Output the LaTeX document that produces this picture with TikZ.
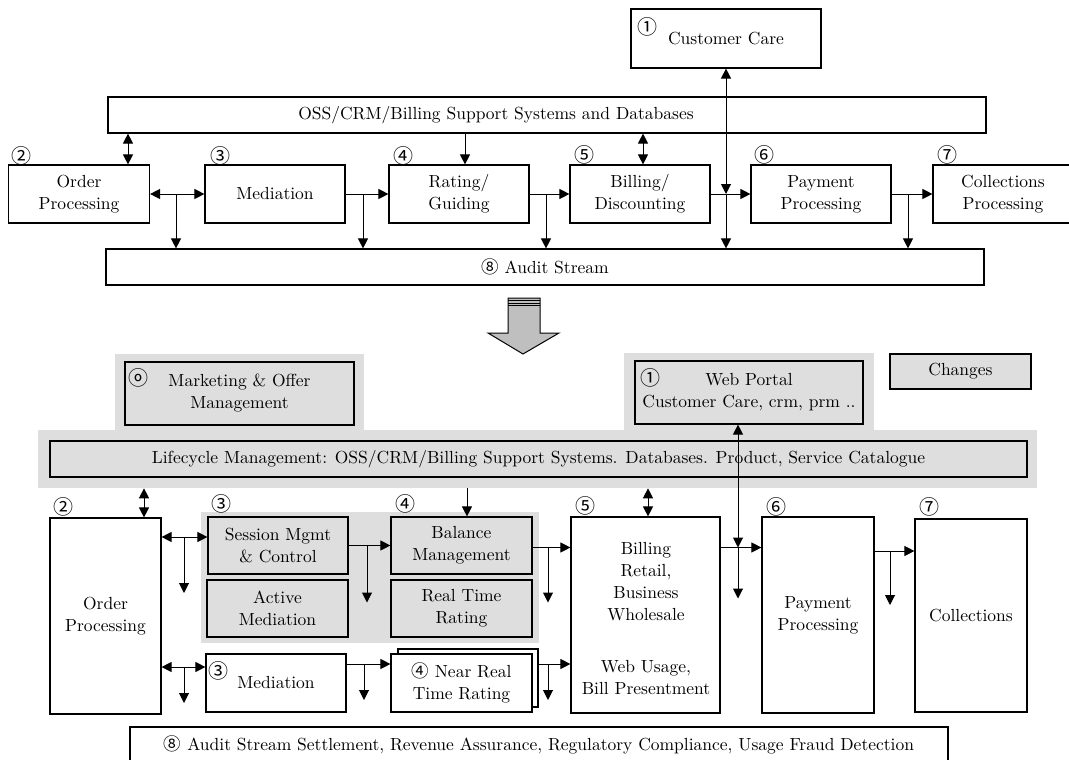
\documentclass[tikz,border=0pt]{standalone}
\usepackage{fontspec}
\usetikzlibrary{arrows.meta}
\newfontfamily\circfont{Noto Sans CJK KR}
\definecolor{bggray}{gray}{0.87}
\def\pxu{0.6pt}

\tikzset{
	sz/.style 2 args={minimum width=#1*\pxu, minimum height=#2*\pxu},
	box/.style={draw, line width=0.7pt, fill=white, align=center, inner sep=1pt},
	graybox/.style={box, fill=bggray},
	bg/.style={fill=bggray, inner sep=0pt},
	num/.style={font=\circfont\fontsize{12}{13}\selectfont, inner sep=0pt},
	txt/.style={align=center, inner sep=0pt},
	arr/.style={line width=0.6pt, -{Triangle[length=6pt,width=6pt]}},
	dbl/.style={line width=0.6pt, {Triangle[length=6pt,width=6pt]}-{Triangle[length=6pt,width=6pt]}},
}

\begin{document}
\begin{tikzpicture}[x=0.6pt, y=-0.6pt, font=\fontsize{10.5}{13.2}\selectfont]
		%%%%% OLD CHAIN %%%%%
		\clip (0,0) rectangle (1069,760);
		
		\node[box, sz={190}{59}] (cc) at (726,38.5) {Customer Care};
		\node[num] (n1a) at (647,27) {①};
		
		\node[box, sz={878}{36}] (oss) at (547,115) {};
		\node[txt] (osstxt) at (496,115) {OSS/CRM/Billing Support Systems and Databases};
		
		\node[box, sz={141}{58}] (ordA) at (79,194) {Order\\Processing};
		\node[box, sz={140}{58}] (medA) at (275,194) {Mediation};
		\node[box, sz={140}{58}] (ratA) at (459,194) {Rating/\\Guiding};
		\node[box, sz={140}{58}] (billA) at (640,194) {Billing/\\Discounting};
		\node[box, sz={140}{58}] (payA) at (821,194) {Payment\\Processing};
		\node[box, sz={140}{58}] (colA) at (1003,194) {Collections\\Processing};
		
		\node[num] (n2a) at (22,156) {②};
		\node[num] (n3a) at (220,156) {③};
		\node[num] (n4a) at (403,156) {④};
		\node[num] (n5a) at (584,155) {⑤};
		\node[num] (n6a) at (764,155) {⑥};
		\node[num] (n7a) at (947,155) {⑦};
		
		\node[box, sz={878}{36}] (audA) at (545,267) {{\circfont ⑧} Audit Stream};
		
		\coordinate (c1) at (128,0);
		\coordinate (c2) at (465,0);
		\coordinate (c3) at (643,0);
		\coordinate (b1) at (176,0);
		\coordinate (b2) at (363,0);
		\coordinate (b3) at (546,0);
		\coordinate (b4) at (908,0);
		
		\draw[dbl] (oss.south -| c1) -- (ordA.north -| c1);
		\draw[arr] (oss.south -| c2) -- (ratA.north -| c2);
		\draw[dbl] (oss.south -| c3) -- (billA.north -| c3);
		\draw[dbl] (cc.south) -- (billA.east -| cc.south);
		\draw[arr] (billA.east -| cc.south) -- (audA.north -| cc.south);
		
		\draw[dbl] (ordA.east) -- (medA.west);
		\draw[arr] (medA.east) -- (ratA.west);
		\draw[arr] (ratA.east) -- (billA.west);
		\draw[arr] (billA.east) -- (payA.west);
		\draw[arr] (payA.east) -- (colA.west);
		
		\draw[arr] (ordA.east -| b1) -- (audA.north -| b1);
		\draw[arr] (ordA.east -| b2) -- (audA.north -| b2);
		\draw[arr] (ordA.east -| b3) -- (audA.north -| b3);
		\draw[arr] (ordA.east -| b4) -- (audA.north -| b4);
		
		%%%%% BIG ARROW %%%%%
		\draw[line width=0.6pt, fill=gray!50] (508,298) -- (540,298) -- (540,333) -- (559,333) -- (523,354) -- (488,333) -- (508,333) -- cycle;
		\draw[line width=0.6pt] (508,300.5) -- (540,300.5);
		\draw[line width=0.6pt] (508,303) -- (540,303);
		\draw[line width=0.6pt] (508,305.5) -- (540,305.5);
		
		%%%%% NEW CHAIN %%%%%
		\fill[bggray] (115,354) rectangle (364,431);
		\fill[bggray] (624,353) rectangle (874,431);
		\node[bg, sz={999}{58}] (band) at (537.5,459) {};
		\node[bg, sz={338}{131}] (rtzone) at (370,577.5) {};
		
		\node[graybox, sz={229}{63}] (mkt) at (239.5,393.5) {Marketing \& Offer\\Management};
		\node[num] (n0) at (138,378) {ⓞ};
		\node[graybox, sz={228}{63}] (web) at (749,392.5) {Web Portal\\Customer Care, crm, prm ..};
		\node[num] (n1b) at (650,378) {①};
		\node[graybox, sz={141}{35}] (chg) at (960.5,371.5) {Changes};
		
		\node[graybox, sz={977}{36}] (lcm) at (538.5,459) {Lifecycle Management: OSS/CRM/Billing Support Systems. Databases. Product, Service Catalogue};
		
		\node[box, sz={111}{196}] (ordB) at (105.5,616) {Order\\Processing};
		\node[graybox, sz={140}{57}] (sess) at (278,545.5) {Session Mgmt\\\& Control};
		\node[graybox, sz={141}{57}] (actm) at (277.5,608.5) {Active\\Mediation};
		\node[graybox, sz={141}{57}] (bal) at (461.5,545.5) {Balance\\Management};
		\node[graybox, sz={141}{57}] (rtr) at (461.5,608.5) {Real Time\\Rating};
		
		\node[box, sz={140}{58}] (medB) at (276,683) {Mediation};
		\node[num] (n3c) at (218,671) {③};
		\node[box, sz={140}{58}] (nrtback) at (468,678) {};
		\node[box, sz={141}{58}] (nrt) at (461.5,683) {{\circfont ④} Near Real\\Time Rating};
		
		\node[box, sz={149}{196}] (billB) at (645.5,615) {};
		\node[txt] (billtxt) at (646,582) {Billing\\Retail,\\Business\\Wholesale};
		\node[txt] (webtxt) at (646,678) {Web Usage,\\Bill Presentment};
		\node[box, sz={112}{196}] (payB) at (818,615) {Payment\\Processing};
		\node[box, sz={112}{193}] (colB) at (971,615.5) {Collections};
		
		\node[num] (n2b) at (63,507) {②};
		\node[num] (n3b) at (221,504) {③};
		\node[num] (n4b) at (405,504) {④};
		\node[num] (n5b) at (585,506) {⑤};
		\node[num] (n6b) at (776,507) {⑥};
		\node[num] (n7b) at (929,507) {⑦};
		
		\node[box, sz={818}{36}] (audB) at (539,745) {{\circfont ⑧} Audit Stream Settlement, Revenue Assurance, Regulatory Compliance, Usage Fraud Detection};
		
		\coordinate (d1) at (144,0);
		\coordinate (d2) at (467,0);
		\coordinate (d3) at (648,0);
		\coordinate (d4) at (738,0);
		\coordinate (e1) at (184,0);
		\coordinate (e2) at (367,0);
		\coordinate (e3) at (548,0);
		\coordinate (e4) at (890,0);
		\coordinate (f2) at (364,0);
		\coordinate (ya) at (0,537);
		\coordinate (yb) at (0,547.5);
		\coordinate (yd) at (0,551);
		\coordinate (yc) at (0,667);
		\coordinate (ye) at (0,664);
		
		\draw[dbl] (band.south -| d1) -- (ordB.north -| d1);
		\draw[arr] (band.south -| d2) -- (bal.north -| d2);
		\draw[dbl] (band.south -| d3) -- (billB.north -| d3);
		\draw[dbl] (web.south -| d4) -- (d4 |- yb);
		\draw[arr] (d4 |- yb) -- ++(0,51);
		
		\draw[dbl] (ordB.east |- ya) -- (sess.west |- ya);
		\draw[arr] (e1 |- ya) -- ++(0,56);
		\draw[arr] (sess.east) -- (bal.west);
		\draw[arr] (e2 |- sess.east) -- ++(0,57);
		\draw[arr] (bal.east |- yb) -- (billB.west |- yb);
		\draw[arr] (e3 |- yb) -- ++(0,55);
		\draw[arr] (billB.east |- yb) -- (payB.west |- yb);
		\draw[arr] (payB.east |- yd) -- (colB.west |- yd);
		\draw[arr] (e4 |- yd) -- ++(0,54);
		
		\draw[dbl] (ordB.east |- yc) -- (medB.west |- yc);
		\draw[arr] (e1 |- yc) -- ++(0,36);
		\draw[arr] (medB.east |- ye) -- (nrt.west |- ye);
		\draw[arr] (f2 |- ye) -- ++(0,36);
		\draw[arr] (nrtback.east |- ye) -- (billB.west |- ye);
		\draw[arr] (e3 |- ye) -- ++(0,36);
		
		%%%%% END %%%%%
\end{tikzpicture}
\end{document}
